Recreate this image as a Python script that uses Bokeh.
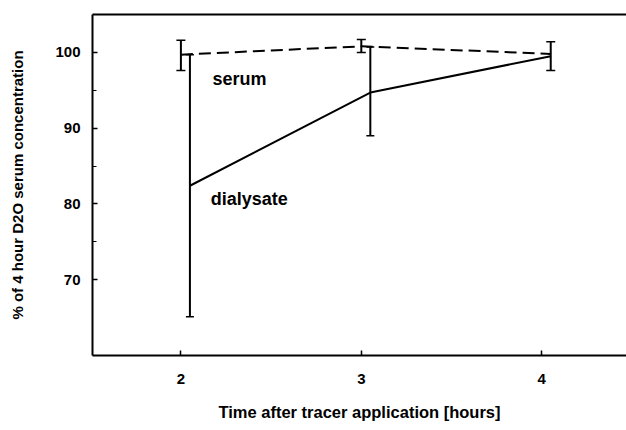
from bokeh.plotting import figure
from bokeh.models import LinearAxis, FixedTicker
from bokeh.core.properties import value
from bokeh.embed import file_html
from bokeh.resources import INLINE

# ---- data ----
serum_x = [2.0, 3.0, 4.05]
serum_y = [99.7, 100.8, 99.8]
serum_lower = [97.6, 100.0, 97.6]
serum_upper = [101.6, 101.7, 101.4]

dial_x = [2.05, 3.05, 4.05]
dial_y = [82.4, 94.7, 99.5]
dial_bar_x = [2.05, 3.05]
dial_lower = [65.1, 89.0]
dial_upper = [99.7, 100.7]

x_ticks = [2, 3, 4]
y_ticks = [70, 80, 90, 100]
y_minor = [75, 85, 95]

label_text = ["serum", "dialysate"]
label_x = [2.175, 2.165]
label_y = [96.5, 80.7]

FONT = "Liberation Sans"

p = figure(width=626, height=430, x_range=(1.51, 4.47), y_range=(60, 105),
           output_backend="svg", toolbar_location=None,
           x_axis_location=None, y_axis_location=None,
           min_border_left=92, min_border_top=14, min_border_bottom=75,
           min_border_right=0, outline_line_color=None)
p.grid.visible = False
p.background_fill_color = "white"
p.border_fill_color = "white"

# axes
xa = LinearAxis(ticker=FixedTicker(ticks=x_ticks),
                axis_label="Time after tracer application [hours]")
ya = LinearAxis(ticker=FixedTicker(ticks=y_ticks, minor_ticks=y_minor),
                axis_label="% of 4 hour D2O serum concentration")
for ax in (xa, ya):
    ax.axis_line_width = 2
    ax.axis_line_color = "black"
    ax.major_tick_in = 5
    ax.major_tick_out = 0
    ax.major_tick_line_width = 1.5
    ax.major_tick_line_color = "black"
    ax.minor_tick_in = 4
    ax.minor_tick_out = 0
    ax.minor_tick_line_color = "black"
    ax.major_label_text_font = FONT
    ax.major_label_text_font_style = "bold"
    ax.major_label_text_font_size = "15px"
    ax.major_label_text_color = "black"
    ax.axis_label_text_font = FONT
    ax.axis_label_text_font_style = "bold"
    ax.axis_label_text_color = "black"
xa.axis_label_text_font_size = "16.5px"
ya.axis_label_text_font_size = "15px"
xa.minor_tick_line_color = None
xa.major_label_standoff = 18
xa.axis_label_standoff = 16
ya.major_label_standoff = 12
ya.axis_label_standoff = 26
p.add_layout(xa, "below")
p.add_layout(ya, "left")

top = LinearAxis(ticker=FixedTicker(ticks=[]))
top.axis_line_width = 2
top.axis_line_color = "black"
top.major_tick_line_color = None
top.minor_tick_line_color = None
top.major_label_text_font_size = "0px"
p.add_layout(top, "above")

# series
p.line(serum_x, serum_y, line_color="black", line_width=2, line_dash="12 6")
p.line(dial_x, dial_y, line_color="black", line_width=2)

# error bars
p.segment(x0=serum_x, y0=serum_lower, x1=serum_x, y1=serum_upper,
          line_color="black", line_width=2)
p.dash(x=serum_x + serum_x, y=serum_lower + serum_upper, size=9,
       line_color="black", line_width=1.5)
p.segment(x0=dial_bar_x, y0=dial_lower, x1=dial_bar_x, y1=dial_upper,
          line_color="black", line_width=2)
p.dash(x=dial_bar_x + dial_bar_x, y=dial_lower + dial_upper, size=8,
       line_color="black", line_width=1.5)

# labels
p.text(x=label_x, y=label_y, text=label_text, text_font=value(FONT),
       text_font_style="bold", text_font_size="18px", text_color="black",
       text_baseline="alphabetic")

open("out.html", "w").write(file_html(p, INLINE))
